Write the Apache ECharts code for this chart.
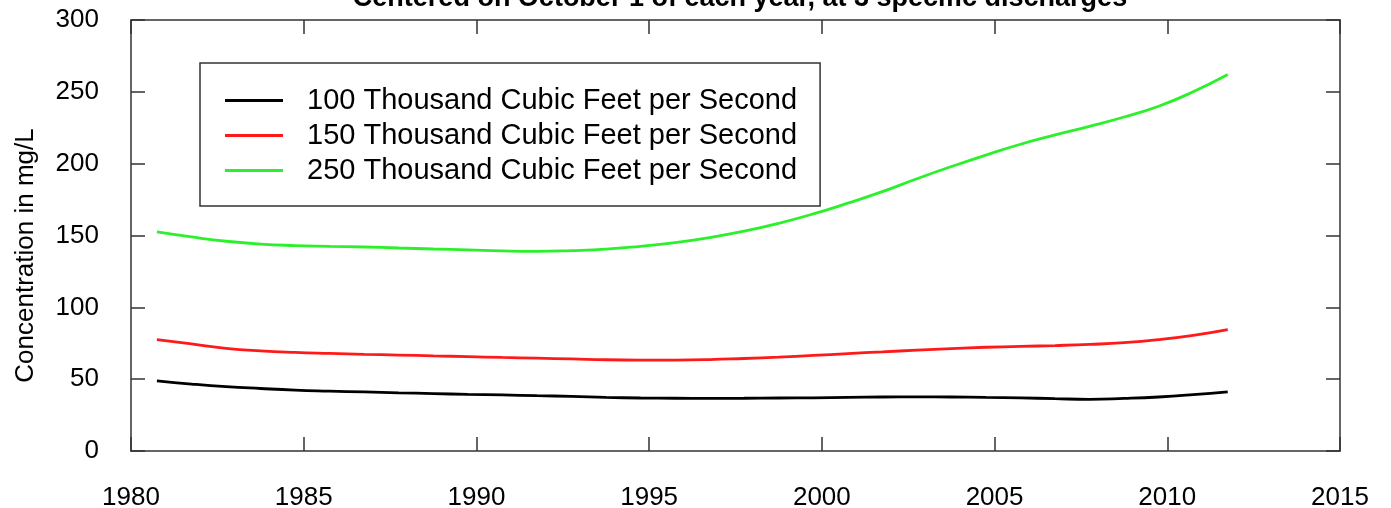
<!DOCTYPE html>
<html>
<head>
<meta charset="utf-8">
<script src="https://cdn.jsdelivr.net/npm/echarts@6/dist/echarts.min.js"></script>
<style>
  html, body { margin: 0; padding: 0; background: #fff; }
  #chart { width: 1391px; height: 508px; }
</style>
</head>
<body>
<div id="chart"></div>
<script>
// decimal years, each point is October 1
const years = [
  1980.75, 1981.75, 1982.75, 1983.75, 1984.75, 1985.75, 1986.75, 1987.75,
  1988.75, 1989.75, 1990.75, 1991.75, 1992.75, 1993.75, 1994.75, 1995.75,
  1996.75, 1997.75, 1998.75, 1999.75, 2000.75, 2001.75, 2002.75, 2003.75,
  2004.75, 2005.75, 2006.75, 2007.75, 2008.75, 2009.75, 2010.75, 2011.75
];
const seriesNames = [
  "100 Thousand Cubic Feet per Second",
  "150 Thousand Cubic Feet per Second",
  "250 Thousand Cubic Feet per Second"
];
const q100 = [
  48.8, 46.6, 44.8, 43.5, 42.4, 41.7, 41.1, 40.5, 40.0, 39.4, 39.0, 38.5,
  38.0, 37.3, 36.9, 36.7, 36.6, 36.7, 36.9, 37.0, 37.3, 37.6, 37.7, 37.6,
  37.3, 37.0, 36.4, 36.0, 36.6, 37.6, 39.2, 41.2
];
const q150 = [
  77.5, 74.5, 71.5, 69.7, 68.6, 67.9, 67.3, 66.8, 66.2, 65.7, 65.1, 64.6,
  64.1, 63.5, 63.3, 63.3, 63.6, 64.4, 65.3, 66.5, 67.8, 69.0, 70.2, 71.3,
  72.2, 72.8, 73.4, 74.2, 75.4, 77.5, 80.5, 84.5
];
const q250 = [
  152.5, 149.0, 146.0, 144.0, 143.0, 142.5, 142.0, 141.3, 140.6, 140.0,
  139.3, 139.0, 139.5, 140.5, 142.5, 145.0, 148.5, 153.0, 158.5, 165.0,
  172.5, 180.5, 189.5, 198.0, 206.0, 213.5, 220.0, 226.0, 232.5, 240.0,
  250.0, 262.0
];
const colors = ["#000000", "#ff1a1a", "#2cf02c"];

const font = "'Liberation Sans', Arial, sans-serif";
const axisLine = { show: true, onZero: false, lineStyle: { color: "#333", width: 1.5 } };
const tick = { show: true, inside: true, length: 14, lineStyle: { color: "#333", width: 1.5 } };

const toPairs = (vals) => vals.map((v, i) => [years[i], v]);

const chart = echarts.init(document.getElementById("chart"));
chart.setOption({
  animation: false,
  backgroundColor: "#fff",
  title: {
    text: "Centered on October 1 of each year, at 3 specific discharges",
    left: 735,
    textAlign: "center",
    top: -20,
    textStyle: { fontFamily: font, fontSize: 27, fontWeight: "bold", color: "#000" }
  },
  grid: { left: 131, right: 51, top: 20, bottom: 57, outerBoundsMode: "none" },
  legend: {
    left: 200,
    top: 63,
    orient: "vertical",
    data: seriesNames,
    icon: "rect",
    itemWidth: 58,
    itemHeight: 3,
    itemGap: 6,
    padding: [23, 23, 21, 25],
    borderColor: "#333",
    borderWidth: 1.5,
    textStyle: {
      fontFamily: font, fontSize: 29, color: "#000",
      padding: [0, 0, 0, 19], lineHeight: 29
    }
  },
  xAxis: [
    {
      type: "value", min: 1980, max: 2015, interval: 5,
      axisLine, axisTick: tick, splitLine: { show: false },
      axisLabel: {
        fontFamily: font, fontSize: 26, color: "#000", margin: 34,
        formatter: (v) => String(v)
      }
    },
    {
      type: "value", position: "top", min: 1980, max: 2015, interval: 5,
      axisLine, axisTick: tick, splitLine: { show: false },
      axisLabel: { show: false }
    }
  ],
  yAxis: [
    {
      type: "value", min: 0, max: 300, interval: 50,
      name: "Concentration in mg/L",
      nameLocation: "middle",
      nameGap: 92,
      nameTextStyle: {
        fontFamily: font, fontSize: 26, color: "#000",
        padding: [0, 40, 0, 0]
      },
      axisLine, axisTick: tick, splitLine: { show: false },
      axisLabel: { fontFamily: font, fontSize: 26, color: "#000", margin: 32 }
    },
    {
      type: "value", position: "right", min: 0, max: 300, interval: 50,
      axisLine, axisTick: tick, splitLine: { show: false },
      axisLabel: { show: false }
    }
  ],
  series: [q100, q150, q250].map((vals, i) => ({
    name: seriesNames[i],
    type: "line",
    smooth: true,
    showSymbol: false,
    data: toPairs(vals),
    itemStyle: { color: colors[i] },
    lineStyle: { color: colors[i], width: 2.8 }
  }))
});
</script>
</body>
</html>
